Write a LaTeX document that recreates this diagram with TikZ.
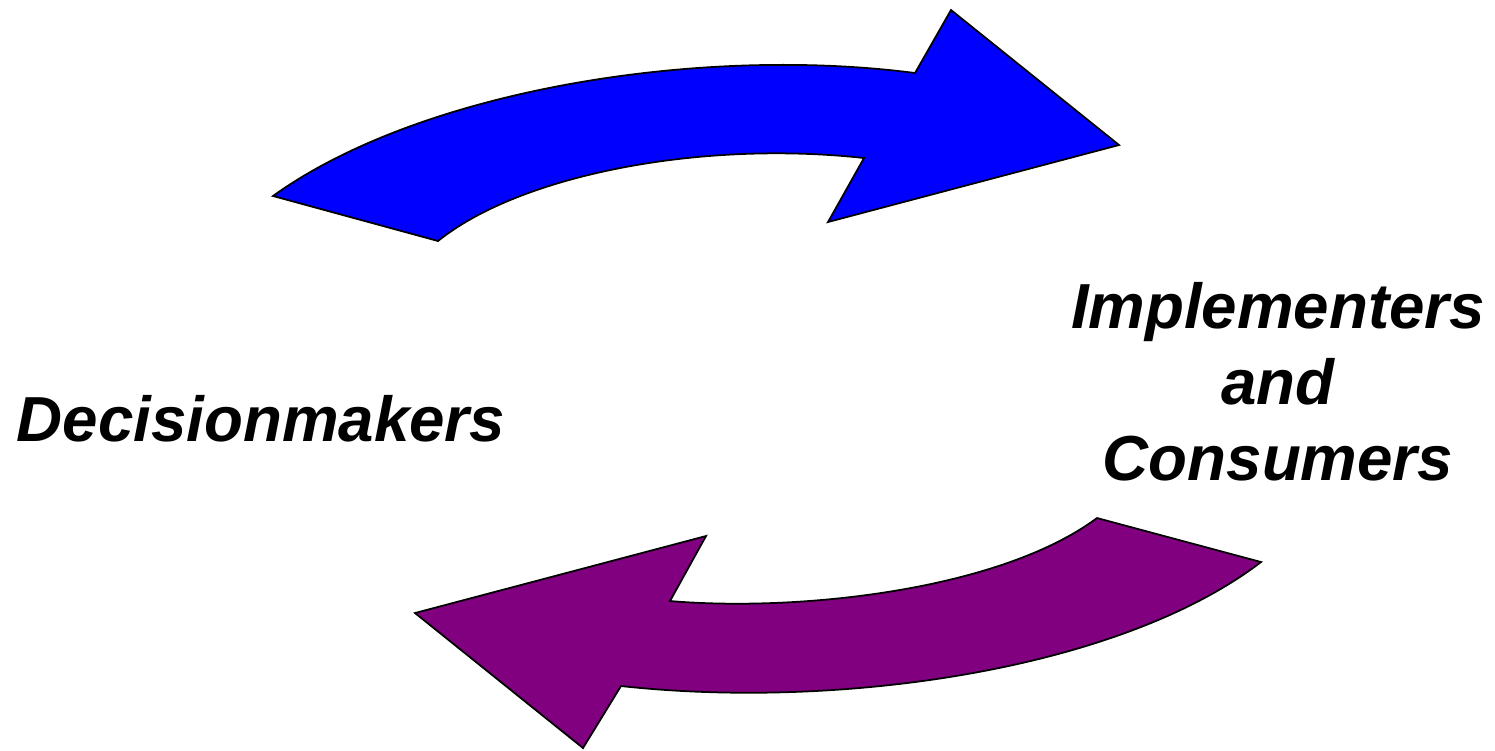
\documentclass[tikz,border=0pt]{standalone}
\usepackage{fontspec}
\setmainfont{Liberation Sans}
\definecolor{myblue}{RGB}{0,0,255}
\definecolor{mypurple}{RGB}{128,0,128}

\begin{document}
\begin{tikzpicture}[x=0.01cm,y=-0.01cm,
    bigarrow/.style={draw=black, line width=0.5pt, line join=miter},
    role/.style={font=\fontsize{18.1}{21.6}\selectfont\bfseries\itshape, inner sep=0pt, align=center}]
    % Fix the page size
    \useasboundingbox (0,0) rectangle (1495,750);

    % Draw the upper arrow
    \fill[myblue] (273,196) .. controls (420,90) and (700,45) .. (915,73)
        -- (951,10) -- (1119,145) -- (828,222) -- (864,158)
        .. controls (700,140) and (520,175) .. (438,241) -- cycle;
    \draw[bigarrow] (273,196) .. controls (420,90) and (700,45) .. (915,73)
        -- (951,10) -- (1119,145) -- (828,222) -- (864,158)
        .. controls (700,140) and (520,175) .. (438,241) -- cycle;

    % Draw the lower arrow
    \fill[mypurple] (1261,562) .. controls (1120,670) and (840,710) .. (621,686)
        -- (583,748) -- (415,613) -- (706,536) -- (670,601)
        .. controls (800,612) and (1000,590) .. (1097,518) -- cycle;
    \draw[bigarrow] (1261,562) .. controls (1120,670) and (840,710) .. (621,686)
        -- (583,748) -- (415,613) -- (706,536) -- (670,601)
        .. controls (800,612) and (1000,590) .. (1097,518) -- cycle;

    % Label the two sides
    \node[role, anchor=base] (decision) at (261,441) {Decisionmakers};
    \node[role, anchor=base] (implement) at (1278,480) {Implementers\\and\\Consumers};
\end{tikzpicture}
\end{document}
